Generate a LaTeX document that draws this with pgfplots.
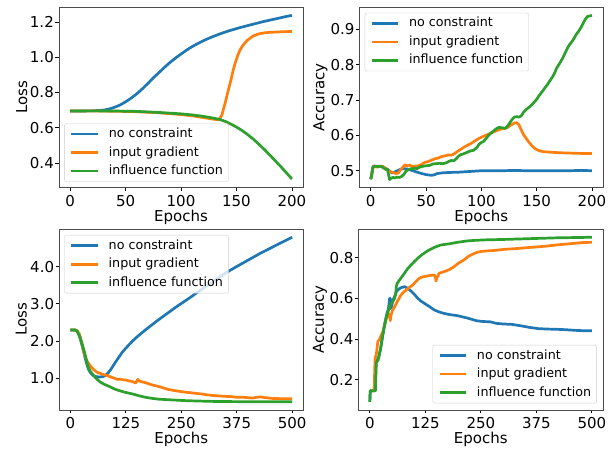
\documentclass[border=0pt]{standalone}
\usepackage{fontspec}
\setmainfont{DejaVu Sans}
\usepackage{pgfplots}
\pgfplotsset{compat=1.18}
\definecolor{tabblue}{HTML}{1F77B4}
\definecolor{taborange}{HTML}{FF7F0E}
\definecolor{tabgreen}{HTML}{2CA02C}
\pgfplotsset{
  myax/.style={
    scale only axis, width=244pt, height=180.5pt,
    anchor=south west,
    /pgf/number format/assume math mode=true,
    tick align=outside, xtick pos=left, ytick pos=left,
    major tick length=3.5pt,
    tick style={black, line width=0.8pt},
    axis line style={black!70, line width=0.8pt},
    tick label style={font=\fontsize{15}{18}\selectfont},
    label style={font=\fontsize{15}{18}\selectfont},
    xticklabel style={inner sep=0pt, anchor=north, yshift=-3.5pt},
    yticklabel style={inner sep=0pt, anchor=east, xshift=-1.5pt},
    xlabel style={at={(axis description cs:0.5,0)}, anchor=base, yshift=-34pt},
    legend style={draw=black!20, rounded corners=2pt, fill=white, fill opacity=0.8, text opacity=1, draw opacity=1,
      font=\fontsize{12.7}{15}\selectfont, inner xsep=5.5pt, inner ysep=4.5pt, row sep=6.5pt, column sep=9.3pt,
      nodes={inner sep=0pt, text height=9.5pt, text depth=2.5pt}},
    legend cell align=left,
    legend image code/.code={\draw[##1, line width=2.7pt] (0pt,0pt) -- (26.7pt,0pt);},
    every axis plot/.append style={line width=2.7pt, line join=round, no markers},
    xlabel={Epochs},
  }
}
\begin{document}
\begin{tikzpicture}
\path[use as bounding box] (0,0) rectangle (616pt,449pt);

% ---------- Panel 1 ----------
\begin{axis}[myax, at={(59pt,261.3pt)},
  xmin=-10, xmax=210, ymin=0.2605, ymax=1.2835,
  xtick={0,50,100,150,200}, ytick={0.4,0.6,0.8,1.0,1.2},
  yticklabel style={/pgf/number format/.cd, fixed, fixed zerofill, precision=1},
  ylabel={Loss}, ylabel style={at={(axis description cs:-0.153,0.5)}, anchor=center},
  legend style={at={(0.022,0.033)}, anchor=south west}]
\addplot[tabblue] coordinates {(0,0.695) (20,0.696) (30,0.700) (35,0.706) (40,0.716) (45,0.729) (50,0.747) (55,0.768) (60,0.792) (65,0.82) (70,0.85) (75,0.883) (80,0.912) (85,0.942) (90,0.97) (95,0.995) (100,1.018) (105,1.04) (110,1.06) (115,1.077) (120,1.093) (125,1.107) (130,1.12) (135,1.132) (140,1.143) (145,1.153) (150,1.162) (155,1.171) (160,1.179) (165,1.187) (170,1.195) (175,1.203) (180,1.21) (185,1.217) (190,1.224) (195,1.231) (200,1.237)};
\addlegendentry{no constraint}
\addplot[taborange] coordinates {(0,0.695) (20,0.695) (40,0.694) (60,0.691) (80,0.685) (100,0.675) (110,0.668) (120,0.658) (125,0.653) (130,0.648) (133,0.646) (135,0.652) (137,0.675) (138,0.70) (140,0.745) (142.5,0.81) (145,0.87) (147,0.925) (149,0.97) (151,1.008) (153,1.038) (155,1.06) (157.5,1.08) (160,1.097) (165,1.12) (170,1.132) (175,1.138) (180,1.141) (190,1.144) (200,1.146)};
\addlegendentry{input gradient}
\addplot[tabgreen] coordinates {(0,0.695) (20,0.696) (40,0.695) (60,0.693) (80,0.687) (100,0.679) (110,0.673) (120,0.665) (130,0.654) (135,0.647) (140,0.636) (145,0.621) (150,0.604) (155,0.585) (160,0.562) (165,0.537) (170,0.508) (175,0.478) (180,0.446) (185,0.413) (190,0.38) (195,0.345) (200,0.31)};
\addlegendentry{influence function}
\end{axis}

% ---------- Panel 2 ----------
\begin{axis}[myax, at={(359.7pt,261.3pt)}, width=243.3pt,
  xmin=-10, xmax=210, ymin=0.452, ymax=0.963,
  xtick={0,50,100,150,200}, ytick={0.5,0.6,0.7,0.8,0.9},
  yticklabel style={/pgf/number format/.cd, fixed, fixed zerofill, precision=1},
  ylabel={Accuracy}, ylabel style={at={(axis description cs:-0.161,0.5)}, anchor=center},
  legend style={at={(0.0205,0.969)}, anchor=north west}]
\addplot[tabblue] coordinates {(0,0.476) (1,0.495) (2,0.512) (4,0.513) (6,0.511) (8,0.512) (10,0.513) (12,0.51) (14,0.505) (16,0.502) (18,0.496) (20,0.494) (22,0.497) (24,0.5) (26,0.503) (28,0.505) (30,0.506) (33,0.505) (36,0.502) (40,0.498) (45,0.493) (50,0.489) (55,0.487) (58,0.489) (60,0.492) (65,0.494) (70,0.495) (80,0.496) (90,0.498) (100,0.5) (110,0.5) (120,0.5) (130,0.501) (140,0.5) (150,0.5) (160,0.5) (170,0.5) (180,0.5) (190,0.501) (200,0.5)};
\addlegendentry{no constraint}
\addplot[taborange] coordinates {(0,0.476) (1,0.49) (2,0.508) (3,0.514) (5,0.51) (7,0.513) (9,0.511) (11,0.512) (13,0.507) (15,0.504) (17,0.498) (19,0.496) (21,0.494) (23,0.492) (25,0.494) (27,0.503) (29,0.51) (31,0.517) (33,0.514) (35,0.516) (37,0.512) (40,0.513) (43,0.514) (46,0.518) (49,0.524) (52,0.526) (55,0.53) (58,0.534) (61,0.536) (64,0.54) (67,0.542) (70,0.545) (73,0.544) (76,0.549) (79,0.556) (82,0.562) (85,0.568) (88,0.573) (91,0.578) (94,0.584) (97,0.59) (100,0.595) (103,0.599) (106,0.603) (109,0.607) (112,0.611) (115,0.615) (118,0.618) (121,0.62) (124,0.623) (127,0.63) (130,0.635) (132,0.636) (134,0.63) (136,0.616) (138,0.603) (140,0.594) (142,0.585) (144,0.577) (146,0.57) (148,0.564) (150,0.56) (153,0.556) (156,0.554) (160,0.553) (170,0.551) (180,0.55) (190,0.549) (200,0.549)};
\addlegendentry{input gradient}
\addplot[tabgreen] coordinates {(0,0.476) (1,0.49) (2,0.51) (4,0.513) (6,0.512) (8,0.513) (10,0.511) (12,0.507) (14,0.503) (15,0.505) (16,0.49) (17,0.475) (18,0.478) (20,0.481) (22,0.48) (24,0.482) (26,0.481) (28,0.484) (30,0.49) (32,0.499) (34,0.503) (36,0.505) (38,0.506) (40,0.507) (42,0.506) (44,0.51) (46,0.512) (48,0.513) (50,0.514) (53,0.515) (56,0.519) (59,0.52) (62,0.521) (65,0.52) (68,0.522) (71,0.527) (73,0.529) (75,0.528) (77,0.533) (79,0.54) (81,0.545) (84,0.548) (87,0.552) (90,0.556) (93,0.558) (96,0.566) (98,0.575) (100,0.58) (102,0.583) (104,0.59) (106,0.598) (108,0.605) (110,0.61) (112,0.615) (114,0.62) (116,0.623) (118,0.622) (120,0.621) (122,0.62) (124,0.628) (126,0.637) (128,0.646) (130,0.652) (132,0.653) (134,0.652) (136,0.655) (138,0.665) (140,0.672) (142,0.677) (144,0.682) (146,0.688) (148,0.695) (150,0.702) (152,0.712) (154,0.72) (156,0.728) (158,0.737) (160,0.745) (162,0.755) (164,0.764) (166,0.775) (168,0.79) (170,0.8) (172,0.81) (174,0.822) (176,0.835) (178,0.848) (180,0.858) (182,0.866) (184,0.876) (186,0.887) (188,0.895) (190,0.905) (192,0.917) (194,0.929) (196,0.937) (198,0.938) (200,0.94)};
\addlegendentry{influence function}
\end{axis}

% ---------- Panel 3 ----------
\begin{axis}[myax, at={(59.3pt,39pt)}, height=181pt,
  xmin=-25, xmax=525, ymin=0.149, ymax=5.01,
  xtick={0,125,250,375,500}, ytick={1,2,3,4},
  yticklabel style={/pgf/number format/.cd, fixed, fixed zerofill, precision=1},
  ylabel={Loss}, ylabel style={at={(axis description cs:-0.156,0.5)}, anchor=center},
  legend style={at={(0.0205,0.967)}, anchor=north west}]
\addplot[tabblue] coordinates {(0,2.3) (10,2.3) (15,2.27) (18,2.21) (22,2.08) (25,1.94) (29,1.76) (32.5,1.58) (36,1.42) (40,1.27) (44,1.17) (47,1.12) (52,1.07) (58,1.045) (65,1.035) (73,1.045) (78,1.07) (84,1.13) (90,1.22) (95,1.31) (102,1.44) (110,1.58) (117,1.7) (125,1.81) (132,1.9) (140,2.0) (150,2.11) (160,2.21) (170,2.31) (180,2.4) (195,2.54) (210,2.67) (225,2.8) (240,2.93) (255,3.05) (270,3.17) (285,3.3) (300,3.42) (320,3.58) (346,3.8) (370,3.97) (400,4.17) (430,4.37) (460,4.55) (480,4.67) (500,4.79)};
\addlegendentry{no constraint}
\addplot[taborange] coordinates {(0,2.3) (10,2.3) (15,2.28) (20,2.2) (25,1.98) (30,1.72) (36,1.49) (40,1.42) (44,1.35) (51,1.25) (56,1.2) (62,1.15) (70,1.12) (77,1.09) (85,1.07) (92,1.03) (100,1.0) (106,0.97) (112,0.98) (118,0.96) (125,0.955) (132,0.93) (138,0.92) (144,0.89) (148,0.88) (150,0.94) (152,0.97) (155,0.93) (160,0.91) (170,0.88) (177,0.85) (185,0.82) (192,0.8) (199,0.78) (210,0.74) (221,0.70) (235,0.67) (251,0.64) (265,0.62) (280,0.6) (295,0.58) (306,0.56) (320,0.54) (343,0.52) (360,0.51) (375,0.49) (390,0.49) (410,0.47) (420,0.49) (428,0.5) (440,0.48) (455,0.46) (470,0.455) (485,0.45) (500,0.45)};
\addlegendentry{input gradient}
\addplot[tabgreen] coordinates {(0,2.3) (10,2.3) (15,2.27) (21,2.12) (27,1.9) (32.5,1.67) (36,1.5) (40,1.31) (45,1.19) (51,1.09) (58,1.0) (66,0.91) (76,0.84) (88,0.78) (100,0.71) (110,0.67) (125,0.62) (140,0.58) (155,0.53) (169,0.49) (185,0.46) (199,0.44) (220,0.425) (236,0.415) (260,0.40) (288,0.39) (320,0.38) (360,0.375) (400,0.37) (450,0.37) (500,0.37)};
\addlegendentry{influence function}
\end{axis}

% ---------- Panel 4 ----------
\begin{axis}[myax, at={(358.7pt,39pt)}, width=244.3pt, height=181pt,
  xmin=-25, xmax=525, ymin=0.0516, ymax=0.9404,
  xtick={0,125,250,375,500}, ytick={0.2,0.4,0.6,0.8},
  yticklabel style={/pgf/number format/.cd, fixed, fixed zerofill, precision=1},
  ylabel={Accuracy}, ylabel style={at={(axis description cs:-0.159,0.5)}, anchor=center},
  legend style={at={(0.975,0.037)}, anchor=south east}]
\addplot[tabblue] coordinates {(0,0.092) (1,0.146) (12,0.146) (13,0.2) (14,0.29) (17,0.3) (20,0.31) (24,0.35) (28,0.4) (33,0.47) (38,0.52) (42,0.55) (44.6,0.6) (46,0.6) (47,0.55) (49,0.56) (52,0.59) (56,0.61) (60,0.633) (65,0.645) (70,0.652) (78,0.657) (85,0.65) (93,0.635) (100,0.62) (108,0.6) (115,0.587) (123,0.575) (134,0.56) (145,0.543) (156,0.533) (167,0.526) (180,0.52) (197,0.515) (210,0.508) (220,0.503) (240,0.49) (255,0.486) (270,0.485) (285,0.477) (300,0.474) (320,0.472) (340,0.465) (360,0.457) (380,0.451) (400,0.449) (420,0.448) (440,0.446) (460,0.443) (480,0.441) (500,0.441)};
\addlegendentry{no constraint}
\addplot[taborange] coordinates {(0,0.146) (10,0.146) (11,0.25) (12,0.305) (15,0.33) (18,0.387) (22,0.4) (26,0.42) (30,0.44) (33.5,0.47) (37,0.5) (41,0.526) (44,0.52) (46,0.49) (48,0.52) (52,0.545) (56,0.559) (62,0.585) (70,0.616) (76,0.63) (82,0.641) (90,0.655) (97,0.666) (104,0.683) (111,0.698) (118,0.705) (123,0.707) (130,0.71) (138,0.713) (145,0.715) (148,0.7) (149,0.685) (151,0.7) (156,0.723) (163,0.728) (171,0.734) (180,0.742) (190,0.756) (198,0.77) (205,0.78) (213,0.79) (221,0.805) (230,0.815) (240,0.825) (250,0.83) (265,0.833) (280,0.835) (300,0.84) (320,0.843) (340,0.846) (360,0.85) (380,0.853) (400,0.857) (420,0.862) (440,0.866) (460,0.87) (480,0.874) (500,0.875)};
\addlegendentry{input gradient}
\addplot[tabgreen] coordinates {(0,0.092) (1,0.146) (12.6,0.146) (14,0.25) (15,0.289) (18.6,0.295) (21,0.32) (24.5,0.354) (28,0.41) (33.5,0.469) (37,0.505) (41,0.534) (44,0.555) (48,0.575) (52,0.585) (55.8,0.6) (58,0.62) (60,0.66) (61.7,0.674) (67,0.69) (72,0.705) (78,0.723) (85,0.745) (93,0.764) (100,0.78) (108,0.797) (118,0.815) (130,0.833) (145,0.85) (160,0.862) (180,0.868) (197,0.875) (220,0.882) (240,0.885) (260,0.887) (280,0.888) (300,0.889) (330,0.891) (360,0.893) (390,0.895) (420,0.897) (450,0.898) (480,0.899) (500,0.9)};
\addlegendentry{influence function}
\end{axis}
\end{tikzpicture}
\end{document}
